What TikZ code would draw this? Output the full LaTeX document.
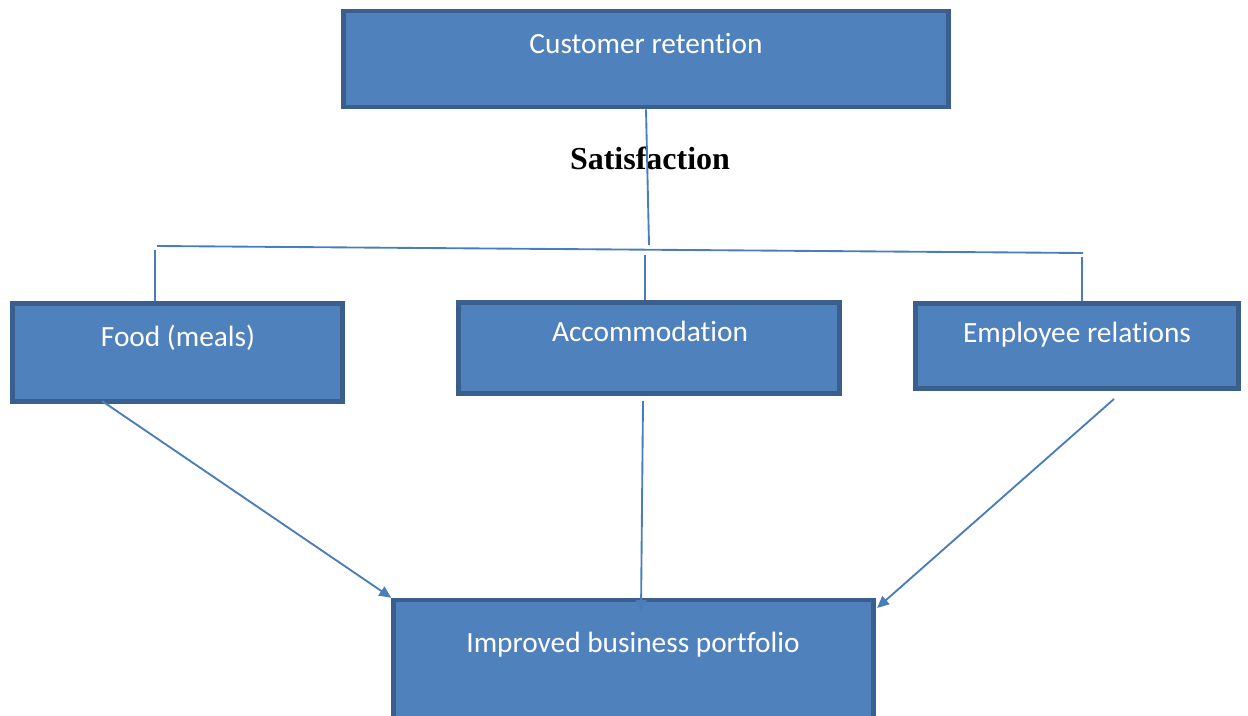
\documentclass[tikz,border=0pt]{standalone}
\usepackage{fontspec}
\setmainfont{Carlito}[Ligatures=NoCommon]
\newfontfamily\headfont{Liberation Serif}
\usetikzlibrary{arrows.meta}
\definecolor{boxfill}{HTML}{4F81BD}
\definecolor{boxedge}{HTML}{3A5F8C}
\definecolor{linkcol}{HTML}{4A7EBB}
\tikzset{
box/.style={
	  draw=boxedge, fill=boxfill, line width=3.4pt, rectangle, inner sep=0pt},
lbl/.style={anchor=base, text=white, font=\fontsize{22}{26}\selectfont},
link/.style={draw=linkcol, line width=1.4pt},
arr/.style={link, -{Triangle[length=9pt,width=8pt]}}
}

\begin{document}
\begin{tikzpicture}[x=0.75pt, y=-0.75pt]
	\useasboundingbox (0,0) rectangle (1248,716);
	\clip (0,0) rectangle (1248,716);
	% boxes
	\node[box, minimum width=453.75pt, minimum height=72pt] (ret) at (646,59) {};
	\node[box, minimum width=247.5pt, minimum height=73.5pt] (food) at (177.5,352.5) {};
	\node[box, minimum width=285.75pt, minimum height=68.25pt] (acc) at (649,348) {};
	\node[box, minimum width=242.25pt, minimum height=63.75pt] (emp) at (1077,346) {};
	\node[box, minimum width=360pt, minimum height=105pt] (port) at (633.5,670) {};
	% texts
	\node[lbl] (ret-t) at (646,54) {Customer retention};
	\node[lbl] (food-t) at (178,346) {Food (meals)};
	\node[lbl] (acc-t) at (650,341) {Accommodation};
	\node[lbl] (emp-t) at (1077,342) {Employee relations};
	\node[lbl] (port-t) at (633,652) {Improved business portfolio};
	\node[anchor=base, font=\headfont\bfseries\fontsize{24}{28}\selectfont] (sat) at (650,170) {Satisfaction};
	% bar and drops
	\coordinate (hub) at (649,245);
	\coordinate (bar-l) at (157,246);
	\coordinate (bar-r) at (1083,253);
	\coordinate (food-in) at (155,250);
	\coordinate (acc-in) at (645,255);
	\coordinate (emp-in) at (1082,257);
	\draw[link] (ret.south) -- (hub);
	\draw[link] (bar-l) -- (bar-r);
	\draw[link] (food-in) -- (food-in |- food.north);
	\draw[link] (acc-in) -- (acc-in |- acc.north);
	\draw[link] (emp-in) -- (emp-in |- emp.north);
	% arrows down
	\coordinate (food-out) at (102,401);
	\coordinate (acc-out) at (643,401);
	\coordinate (acc-end) at (641,612);
	\coordinate (emp-out) at (1114,399);
	\coordinate (emp-end) at (877,608);
	\draw[arr] (food-out) -- (port.north west);
	\draw[arr] (acc-out) -- (acc-end);
	\draw[arr] (emp-out) -- (emp-end);
\end{tikzpicture}
\end{document}
